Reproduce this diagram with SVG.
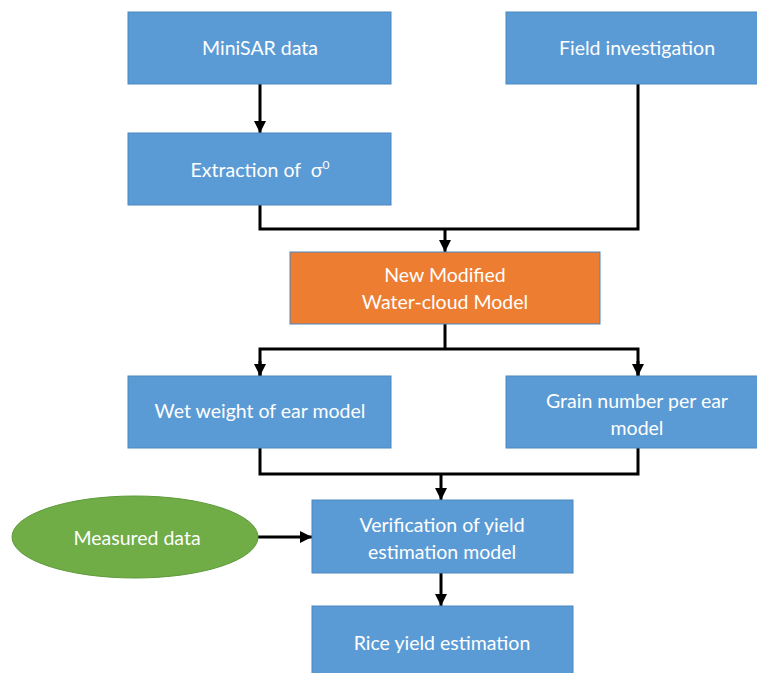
<svg xmlns="http://www.w3.org/2000/svg" width="757" height="673" viewBox="0 0 757 673">
<defs>
<style>
.blue{fill:#5B9BD5;stroke:#4A87C0;stroke-width:1}
.orange{fill:#ED7D31;stroke:#4A87C0;stroke-width:1}
.green{fill:#70AD47;stroke:#5E9A3A;stroke-width:1}
.t{font-family:Lato,"Liberation Sans",sans-serif;font-size:19.5px;fill:#fff;text-anchor:middle}
.c{fill:none;stroke:#000;stroke-width:3}
</style>
<marker id="ah" viewBox="0 0 10 10" refX="10" refY="5" markerWidth="4" markerHeight="4" markerUnits="strokeWidth" orient="auto">
<path d="M0,0 L10,5 L0,10 Z" fill="#000"/>
</marker>
</defs>
<rect width="757" height="673" fill="#fff"/>
<g id="connectors">
<path class="c" d="M260,84 V133" marker-end="url(#ah)"/>
<path class="c" d="M260,205 V229 H638 V84"/>
<path class="c" d="M445,229 V252" marker-end="url(#ah)"/>
<path class="c" d="M445,324 V349"/>
<path class="c" d="M260,376 V349 H638 V376" />
<path class="c" d="M260,361 V376" marker-end="url(#ah)"/>
<path class="c" d="M638,361 V376" marker-end="url(#ah)"/>
<path class="c" d="M260,448 V474 H638 V448"/>
<path class="c" d="M441,474 V500" marker-end="url(#ah)"/>
<path class="c" d="M258,537 H312" marker-end="url(#ah)"/>
<path class="c" d="M441,573 V606" marker-end="url(#ah)"/>
</g>
<g id="minisar">
<rect class="blue" x="128" y="12" width="263" height="72"/>
<text class="t" x="260" y="55">MiniSAR data</text>
</g>
<g id="field">
<rect class="blue" x="506" y="12" width="256" height="72"/>
<text class="t" x="637" y="55">Field investigation</text>
</g>
<g id="extraction">
<rect class="blue" x="128" y="133" width="263" height="72"/>
<text class="t" x="260" y="177" xml:space="preserve">Extraction of  σ<tspan dy="-8" font-size="12">0</tspan></text>
</g>
<g id="nmwcm">
<rect class="orange" x="290" y="252" width="310" height="72"/>
<text class="t" x="445" y="282">New Modified</text>
<text class="t" x="445" y="309">Water-cloud Model</text>
</g>
<g id="wetweight">
<rect class="blue" x="128" y="376" width="263" height="72"/>
<text class="t" x="260" y="418">Wet weight of ear model</text>
</g>
<g id="grain">
<rect class="blue" x="506" y="376" width="256" height="72"/>
<text class="t" x="637" y="408">Grain number per ear</text>
<text class="t" x="637" y="435">model</text>
</g>
<g id="measured">
<ellipse class="green" cx="135" cy="537" rx="123" ry="41"/>
<text class="t" x="137" y="545">Measured data</text>
</g>
<g id="verification">
<rect class="blue" x="312" y="500" width="261" height="73"/>
<text class="t" x="442" y="532">Verification of yield</text>
<text class="t" x="442" y="559">estimation model</text>
</g>
<g id="rice">
<rect class="blue" x="312" y="606" width="261" height="72"/>
<text class="t" x="442" y="650">Rice yield estimation</text>
</g>
</svg>
